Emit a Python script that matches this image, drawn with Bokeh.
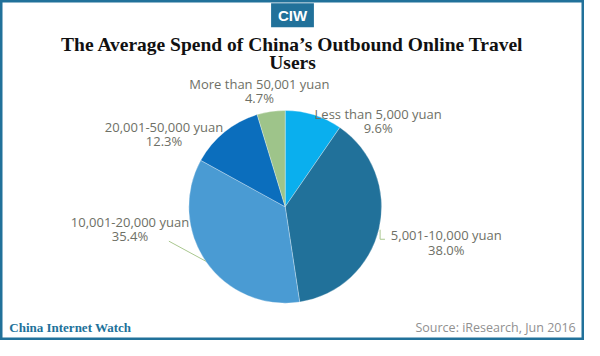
import math
from bokeh.plotting import figure
from bokeh.models import ColumnDataSource
from bokeh.core.properties import value
from bokeh.embed import file_html
from bokeh.resources import INLINE

# ---- data ----
categories = ["Less than 5,000 yuan", "5,001-10,000 yuan", "10,001-20,000 yuan",
              "20,001-50,000 yuan", "More than 50,001 yuan"]
shares = [9.6, 38.0, 35.4, 12.3, 4.7]
colors = ["#0AAFEE", "#21719A", "#4A9BD3", "#0B6EBD", "#9EC48A"]
title_lines = ["The Average Spend of China\u2019s Outbound Online Travel", "Users"]

# ---- layout (reference pixel space, y measured from top) ----
W, H = 600, 356
CX, CY, R = 292.5, 216, 99
label_pos = [(388, 119), (458, 246), (133, 232), (168, 132), (266, 87)]

def fy(y):
    return H - y

p = figure(width=584, height=340, x_range=(0, W), y_range=(0, H),
           output_backend="svg", toolbar_location=None, min_border=0)
p.axis.visible = False
p.grid.visible = False
p.outline_line_color = "#21719A"
p.outline_line_width = 4
p.background_fill_color = "white"
p.border_fill_color = "white"

# wedges, clockwise from 12 o'clock
total = sum(shares)
starts, ends = [], []
cum = 0.0
for s in shares:
    a0 = math.pi / 2 - 2 * math.pi * (cum + s) / total
    a1 = math.pi / 2 - 2 * math.pi * cum / total
    starts.append(a0)
    ends.append(a1)
    cum += s
src = ColumnDataSource(dict(start=starts, end=ends, color=colors))
p.wedge(x=CX, y=fy(CY), radius=R, start_angle="start", end_angle="end",
        fill_color="color", line_color="white", line_width=0.3, source=src)

# leader lines
p.line(x=[173, 211], y=[fy(252), fy(273)], line_color="#A9C78F", line_width=1)
p.line(x=[390, 390, 395], y=[fy(240), fy(250), fy(250)], line_color="#A9C78F", line_width=1)

# labels
lab_x = [lp[0] for lp in label_pos]
lab_y1 = [fy(lp[1]) for lp in label_pos]
lab_y2 = [fy(lp[1] + 15) for lp in label_pos]
pct = [f"{s:.1f}%" for s in shares]
p.text(x=lab_x, y=lab_y1, text=categories, text_align="center", text_baseline="middle",
       text_font=value("Open Sans"), text_font_size="13px", text_color="#6E7066")
p.text(x=lab_x, y=lab_y2, text=pct, text_align="center", text_baseline="middle",
       text_font=value("Open Sans"), text_font_size="13px", text_color="#6E7066")

# logo
p.quad(left=[278], right=[322], top=[fy(3)], bottom=[fy(28)], fill_color="#21719A", line_color=None)
p.text(x=[300], y=[fy(16)], text=["CIW"], text_align="center", text_baseline="middle",
       text_font=value("Liberation Sans"), text_font_style="bold",
       text_font_size="15px", text_color="white")

# title
p.text(x=[300, 300], y=[fy(46), fy(65)], text=title_lines, text_align="center",
       text_baseline="middle", text_font=value("Liberation Serif"), text_font_style="bold",
       text_font_size="19.5px", text_color="#111111")

# footer
p.text(x=[9], y=[fy(342)], text=["China Internet Watch"], text_align="left",
       text_baseline="middle", text_font=value("Liberation Serif"), text_font_style="bold",
       text_font_size="13px", text_color="#21719A")
p.text(x=[591], y=[fy(342)], text=["Source: iResearch, Jun 2016"], text_align="right",
       text_baseline="middle", text_font=value("Open Sans"),
       text_font_size="12.5px", text_color="#909090")

open("out.html", "w").write(file_html(p, INLINE))
